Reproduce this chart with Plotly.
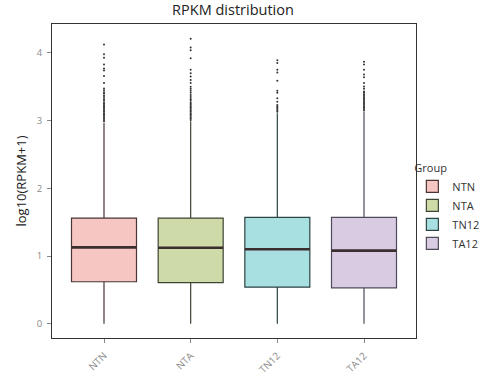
import plotly.graph_objects as go

groups = ["NTN", "NTA", "TN12", "TA12"]
q1 = [0.62, 0.606, 0.54, 0.53]
median = [1.127, 1.122, 1.10, 1.08]
q3 = [1.561, 1.561, 1.57, 1.57]
lower = [0.0, 0.0, 0.0, 0.0]
upper = [2.97, 2.99, 3.11, 3.13]

outliers = {
    "NTN": [4.126, 3.98, 3.93, 3.83, 3.77, 3.74, 3.66, 3.555, 3.475, 3.45, 3.42, 3.40, 3.37, 3.35,
            3.32, 3.30, 3.27, 3.25, 3.23, 3.21, 3.19, 3.17, 3.15, 3.13, 3.11, 3.09, 3.07, 3.05,
            3.03, 3.01, 2.99],
    "NTA": [4.21, 4.08, 4.04, 3.92, 3.75, 3.70, 3.65, 3.60, 3.555, 3.50, 3.47, 3.44, 3.41, 3.38,
            3.35, 3.32, 3.30, 3.27, 3.25, 3.23, 3.21, 3.19, 3.17, 3.15, 3.13, 3.11, 3.09, 3.07,
            3.05, 3.03, 3.01],
    "TN12": [3.89, 3.85, 3.75, 3.71, 3.59, 3.44, 3.41, 3.33, 3.28, 3.23, 3.21, 3.19, 3.17,
             3.15, 3.13],
    "TA12": [3.87, 3.83, 3.75, 3.68, 3.64, 3.555, 3.505, 3.47, 3.43, 3.41, 3.39, 3.37, 3.35,
             3.33, 3.31, 3.29, 3.27, 3.25, 3.23, 3.21, 3.19, 3.17, 3.15],
}

fills = ["#F5C6C2", "#CEDBA8", "#A8E0E2", "#D8CBE2"]
edges = ["#4A3434", "#3E4433", "#2E4444", "#4E4A58"]

fig = go.Figure()

for i, g in enumerate(groups):
    fig.add_trace(go.Box(
        x=[g], q1=[q1[i]], median=[median[i]], q3=[q3[i]],
        lowerfence=[lower[i]], upperfence=[upper[i]],
        name=g, fillcolor=fills[i],
        line=dict(color=edges[i], width=1.2),
        whiskerwidth=0, width=0.75, boxpoints=False,
        hoverinfo="skip", legendgroup=g,
    ))
    # thick median line
    fig.add_trace(go.Box(
        x=[g], q1=[median[i]], median=[median[i]], q3=[median[i]],
        lowerfence=[median[i]], upperfence=[median[i]],
        fillcolor="rgba(0,0,0,0)", line=dict(color="#3A2E2E", width=2.6),
        whiskerwidth=0, width=0.75, boxpoints=False, showlegend=False,
        hoverinfo="skip", legendgroup=g,
    ))
    fig.add_trace(go.Scatter(
        x=[g] * len(outliers[g]), y=outliers[g], mode="markers",
        marker=dict(size=2.0, color="#333333"), showlegend=False,
        hoverinfo="skip",
    ))

fig.update_layout(
    width=482, height=376,
    margin=dict(l=52, r=66, t=24, b=38, autoexpand=False),
    paper_bgcolor="white", plot_bgcolor="white",
    boxmode="overlay",
    font=dict(family="Open Sans, DejaVu Sans, sans-serif", color="#333333"),
    title=dict(text="RPKM distribution", x=0.4834, xanchor="center", y=0.973, yanchor="middle",
               font=dict(size=14.5, color="#222222"), automargin=False),
    showlegend=True,
    legend=dict(title=dict(text="Group", font=dict(size=11, color="#333333")),
                font=dict(size=11, color="#333333"),
                x=0.99, xanchor="left", y=0.414, yanchor="middle",
                tracegroupgap=0,
                bgcolor="rgba(0,0,0,0)", itemclick=False),
    xaxis=dict(type="category", categoryorder="array", categoryarray=groups,
               range=[-0.6, 3.6], showgrid=False, zeroline=False, automargin=False,
               showline=True, linecolor="#333333", linewidth=1, mirror=True,
               ticks="outside", ticklen=4, tickcolor="#888888",
               ticklabelstandoff=3,
               tickangle=-45, tickfont=dict(size=10, color="#8A8A8A")),
    yaxis=dict(range=[-0.211, 4.427], showgrid=False, zeroline=False, automargin=False,
               showline=True, linecolor="#333333", linewidth=1, mirror=True,
               ticks="outside", ticklen=4, tickcolor="#888888",
               ticklabelstandoff=3,
               tickvals=[0, 1, 2, 3, 4], tickfont=dict(size=9.5, color="#8A8A8A"),
               title=dict(text="log10(RPKM+1)", font=dict(size=13, color="#222222"), standoff=7)),
)

fig.write_html("out.html", config={"displayModeBar": False},
               post_script="document.body.style.margin='0';")
